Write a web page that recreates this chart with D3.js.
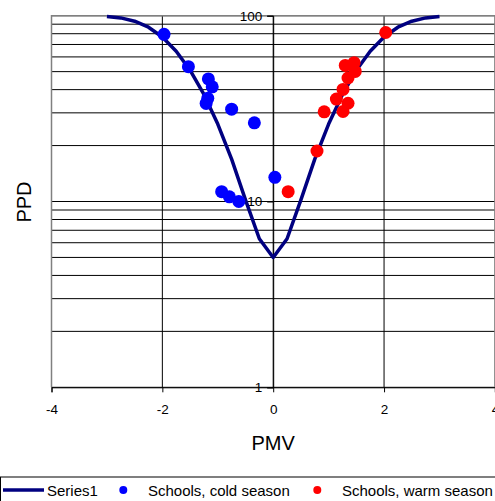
<!DOCTYPE html>
<html>
<head>
<meta charset="utf-8">
<script src="https://cdn.jsdelivr.net/npm/d3@7"></script>
<style>
  html, body { margin: 0; padding: 0; background: #fff; }
  svg { display: block; font-family: "Liberation Sans", Arial, sans-serif; }
</style>
</head>
<body>
<svg id="chart" width="495" height="501"></svg>
<script>
// Series1 curve (PMV -> PPD)
const curvePMV = [-3, -2.75, -2.5, -2.25, -2, -1.75, -1.5, -1.25, -1, -0.75, -0.5, -0.25, 0,
                  0.25, 0.5, 0.75, 1, 1.25, 1.5, 1.75, 2, 2.25, 2.5, 2.75, 3];
const curvePPD = [99.1, 97.3, 93.4, 86.7, 76.8, 64.4, 50.9, 37.7, 26.1, 16.9, 10.2, 6.3, 5.0,
                  6.3, 10.2, 16.9, 26.1, 37.7, 50.9, 64.4, 76.8, 86.7, 93.4, 97.3, 99.1];

// Schools, cold season
const coldPMV = [-1.97, -1.53, -1.17, -1.10, -1.18, -1.21, -0.75, -0.34, 0.03, -0.93, -0.79, -0.62];
const coldPPD = [79.4, 53.2, 45.7, 41.4, 35.9, 33.7, 31.4, 26.5, 13.5, 11.3, 10.6, 10.0];

// Schools, warm season
const warmPMV = [2.03, 1.30, 1.46, 1.48, 1.35, 1.26, 1.14, 1.35, 1.26, 0.92, 0.79, 0.27];
const warmPPD = [81.2, 54.0, 55.9, 50.1, 46.2, 40.1, 35.6, 33.8, 30.5, 30.4, 18.7, 11.3];

const xTicks = [-4, -2, 0, 2, 4];
const yTicks = [1, 10, 100];
const yGrid = [1, 2, 3, 4, 5, 6, 7, 8, 9, 10, 20, 30, 40, 50, 60, 70, 80, 90, 100];
const xGrid = [-2, 0, 2];

const legendLabels = ["Series1", "Schools, cold season", "Schools, warm season"];

const svg = d3.select("#chart");
const L = 51.5, R = 494.9, T = 15.7, B = 387.3;
const x = d3.scaleLinear().domain([-4, 4]).range([L, R]);
const y = d3.scaleLog().domain([1, 100]).range([B, T]);

// gridlines
svg.append("g").selectAll("line").data(yGrid).join("line")
  .attr("x1", L).attr("x2", R)
  .attr("y1", d => y(d)).attr("y2", d => y(d))
  .attr("stroke", "#000").attr("stroke-width", 1);
svg.append("g").selectAll("line").data(xGrid).join("line")
  .attr("x1", d => x(d)).attr("x2", d => x(d))
  .attr("y1", T).attr("y2", B)
  .attr("stroke", "#000").attr("stroke-width", 1);

// plot border (left, top, right gray)
svg.append("path")
  .attr("d", `M${L},${B}V${T}H${R}V${B}`)
  .attr("fill", "none").attr("stroke", "#808080").attr("stroke-width", 1.5);

// x axis
const xAxis = svg.append("g").attr("transform", `translate(0,${B})`)
  .call(d3.axisBottom(x).tickValues(xTicks).tickSize(5).tickPadding(12).tickFormat(d => String(d)));
xAxis.select(".domain").attr("stroke", "#000");
xAxis.selectAll(".tick line").attr("stroke", "#000");
xAxis.selectAll("text").attr("font-size", 13.5).attr("fill", "#000")
  .attr("font-family", "Liberation Sans, Arial, sans-serif");

// y axis at x=0
const yAxis = svg.append("g").attr("transform", `translate(${x(0)},0)`)
  .call(d3.axisLeft(y).tickValues(yTicks).tickSize(6).tickPadding(5).tickFormat(d => String(d)));
yAxis.select(".domain").attr("stroke", "#000");
yAxis.selectAll(".tick line").attr("stroke", "#000");
yAxis.selectAll("text").attr("font-size", 13.5).attr("fill", "#000")
  .attr("font-family", "Liberation Sans, Arial, sans-serif");

// curve
const curve = curvePMV.map((v, i) => [v, curvePPD[i]]);
svg.append("path").datum(curve)
  .attr("d", d3.line().x(d => x(d[0])).y(d => y(d[1])))
  .attr("fill", "none").attr("stroke", "#000080").attr("stroke-width", 3.5)
  .attr("stroke-linejoin", "round");

// points
const cold = coldPMV.map((v, i) => [v, coldPPD[i]]);
const warm = warmPMV.map((v, i) => [v, warmPPD[i]]);
svg.append("g").selectAll("circle").data(cold).join("circle")
  .attr("cx", d => x(d[0])).attr("cy", d => y(d[1])).attr("r", 6.5).attr("fill", "#0000FF");
svg.append("g").selectAll("circle").data(warm).join("circle")
  .attr("cx", d => x(d[0])).attr("cy", d => y(d[1])).attr("r", 6.5).attr("fill", "#FF0000");

// axis titles
svg.append("text").attr("x", x(0)).attr("y", 450).attr("text-anchor", "middle")
  .attr("font-size", 20).attr("fill", "#000").text("PMV");
svg.append("text").attr("transform", "translate(31,202) rotate(-90)")
  .attr("text-anchor", "middle").attr("font-size", 20).attr("fill", "#000").text("PPD");

// legend
const lg = svg.append("g");
lg.append("rect").attr("x", 0.5).attr("y", 477).attr("width", 520).attr("height", 30)
  .attr("fill", "#fff").attr("stroke", "#000").attr("stroke-width", 1);
lg.append("line").attr("x1", 3).attr("x2", 44).attr("y1", 490).attr("y2", 490)
  .attr("stroke", "#000080").attr("stroke-width", 3.5);
lg.append("text").attr("x", 47).attr("y", 495.5).attr("font-size", 15).text(legendLabels[0]);
lg.append("circle").attr("cx", 123.3).attr("cy", 490).attr("r", 4).attr("fill", "#0000FF");
lg.append("text").attr("x", 148).attr("y", 495.5).attr("font-size", 15).text(legendLabels[1]);
lg.append("circle").attr("cx", 317.3).attr("cy", 490).attr("r", 4).attr("fill", "#FF0000");
lg.append("text").attr("x", 342).attr("y", 495.5).attr("font-size", 15).text(legendLabels[2]);
</script>
</body>
</html>
